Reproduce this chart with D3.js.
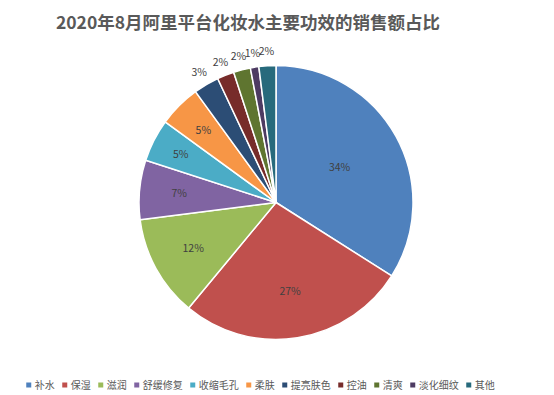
<!DOCTYPE html>
<meta charset="utf-8">
<style>
body,html{
  margin: 0;
  padding: 0;
  background: #fff;
}
text{
  font-family: "Noto Sans CJK SC", "Noto Sans", sans-serif;
}
</style>
<svg width="554" height="395"></svg>
<script src="https://cdn.jsdelivr.net/npm/d3@7/dist/d3.min.js"></script>
<script>

var categories = ["补水", "保湿", "滋润", "舒缓修复", "收缩毛孔", "柔肤", "提亮肤色", "控油", "清爽", "淡化细纹", "其他"]
var shares = [34, 27, 12, 7, 5, 5, 3, 2, 2, 1, 2]
var colors = ["#4F81BD", "#C0504D", "#9BBB59", "#8064A2", "#4BACC6", "#F79646", "#2C4D75", "#772C2A", "#5F7530", "#4D3B62", "#276A7C"]
// where each label sits, as a fraction of the radius (>1 = outside)
var labelRadius = [0.53, 0.66, 0.69, 0.71, 0.78, 0.75, 1.1, 1.1, 1.1, 1.1, 1.1]

var svg = d3.select("svg"),
    width = +svg.attr("width"),
    height = +svg.attr("height");

var cx = 276, cy = 202.5, R = 137

svg.append("text")
    .attr("x", 248)
    .attr("y", 29)
    .attr("text-anchor", "middle")
    .attr("font-size", 17.5)
    .attr("font-weight", "bold")
    .attr("fill", "#595959")
    .text("2020年8月阿里平台化妆水主要功效的销售额占比")

var data = categories.map((c, i) => ({name: c, value: shares[i], color: colors[i], lr: labelRadius[i]}))

var pie = d3.pie().sort(null).value(d => d.value)
var arc = d3.arc().innerRadius(0).outerRadius(R)

var g = svg.append("g").attr("transform", "translate(" + cx + "," + cy + ")")

var arcs = pie(data)

g.selectAll("path")
  .data(arcs)
  .enter().append("path")
    .attr("d", arc)
    .attr("fill", d => d.data.color)
    .attr("stroke", "#fff")
    .attr("stroke-width", 1.5)
    .attr("stroke-linejoin", "round")

g.selectAll("text.lbl")
  .data(arcs)
  .enter().append("text")
    .attr("class", "lbl")
    .attr("x", d => {
      var a = (d.startAngle + d.endAngle) / 2
      var r = d.data.lr > 1 ? R + 14 : R * d.data.lr
      return Math.sin(a) * r
    })
    .attr("y", d => {
      var a = (d.startAngle + d.endAngle) / 2
      var r = d.data.lr > 1 ? R + 14 : R * d.data.lr
      return -Math.cos(a) * r
    })
    .attr("dy", "0.35em")
    .attr("text-anchor", "middle")
    .attr("font-size", 10.5)
    .attr("fill", "#404040")
    .text(d => d.data.value + "%")

// legend
var legend = svg.append("g")
var x = 0
var items = legend.selectAll("g")
  .data(data)
  .enter().append("g")

items.append("rect")
    .attr("width", 5)
    .attr("height", 5)
    .attr("y", -2.5)
    .attr("fill", d => d.color)

items.append("text")
    .attr("x", 8.5)
    .attr("dy", "0.35em")
    .attr("font-size", 10)
    .attr("fill", "#595959")
    .text(d => d.name)

items.each(function() {
  var it = d3.select(this)
  it.attr("transform", "translate(" + x + ",0)")
  x += 8.5 + it.select("text").node().getComputedTextLength() + 7.5
})
var total = x - 7.5
legend.attr("transform", "translate(" + (260.5 - total / 2) + ",385)")

</script>
